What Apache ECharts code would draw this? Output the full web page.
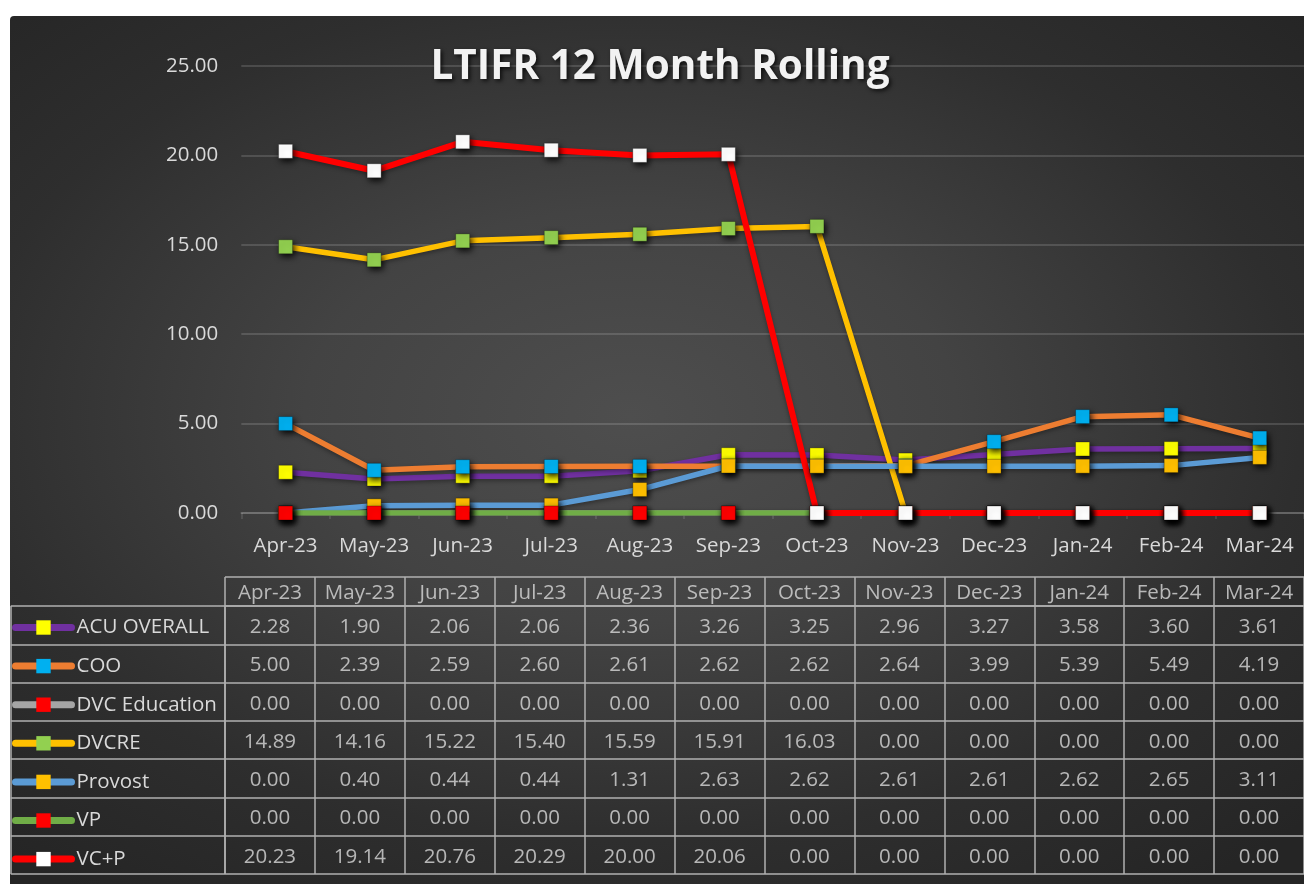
<!DOCTYPE html>
<html>
<head>
<meta charset="utf-8">
<script src="https://cdn.jsdelivr.net/npm/echarts@6/dist/echarts.min.js"></script>
<style>
    html, body {
        margin: 0;
        padding: 0;
        background: #ffffff;
        width: 1304px;
        height: 884px;
        overflow: hidden;
    }
    #chart {
        position: absolute;
        left: 10px;
        top: 16px;
        width: 1294px;
        height: 868px;
        border-top-left-radius: 4px;
        background: radial-gradient(ellipse 72% 68% at 48% 46%, #4e4e4e 0%, #434343 35%, #2e2e2e 72%, #252525 100%);
    }
</style>
</head>
<body>
<div id="chart"></div>
<script>
// months / series
var months = ['Apr-23', 'May-23', 'Jun-23', 'Jul-23', 'Aug-23', 'Sep-23', 'Oct-23', 'Nov-23', 'Dec-23', 'Jan-24', 'Feb-24', 'Mar-24']
var seriesNames = ['ACU OVERALL', 'COO', 'DVC Education', 'DVCRE', 'Provost', 'VP', 'VC+P']

var acuOverall = [2.28, 1.90, 2.06, 2.06, 2.36, 3.26, 3.25, 2.96, 3.27, 3.58, 3.60, 3.61]
var coo = [5.00, 2.39, 2.59, 2.60, 2.61, 2.62, 2.62, 2.64, 3.99, 5.39, 5.49, 4.19]
var dvcEducation = [0.00, 0.00, 0.00, 0.00, 0.00, 0.00, 0.00, 0.00, 0.00, 0.00, 0.00, 0.00]
var dvcre = [14.89, 14.16, 15.22, 15.40, 15.59, 15.91, 16.03, 0.00, 0.00, 0.00, 0.00, 0.00]
var provost = [0.00, 0.40, 0.44, 0.44, 1.31, 2.63, 2.62, 2.61, 2.61, 2.62, 2.65, 3.11]
var vp = [0.00, 0.00, 0.00, 0.00, 0.00, 0.00, 0.00, 0.00, 0.00, 0.00, 0.00, 0.00]
var vcp = [20.23, 19.14, 20.76, 20.29, 20.00, 20.06, 0.00, 0.00, 0.00, 0.00, 0.00, 0.00]

var yTicks = [0, 5, 10, 15, 20, 25]

var allValues = [acuOverall, coo, dvcEducation, dvcre, provost, vp, vcp]
var lineColors = ['#7030A0', '#ED7D31', '#A5A5A5', '#FFC000', '#5B9BD5', '#70AD47', '#FF0000']
var markerColors = ['#FFFF00', '#00B0F0', '#FF0000', '#92D050', '#FFC000', '#FF0000', '#FFFFFF']

var font = 'Open Sans'
var textColor = '#d9d9d9'
var tableLine = { color: '#b0b0b0', width: 1.5 }

var chart = echarts.init(document.getElementById('chart'))

var lineSeries = seriesNames.map(function (name, k) {
    return {
        name: name,
        type: 'line',
        xAxisIndex: 0,
        yAxisIndex: 0,
        data: allValues[k],
        symbol: 'rect',
        symbolSize: 14,
        showAllSymbol: true,
        lineStyle: {
            color: lineColors[k],
            width: k === 6 ? 6 : 5.5,
            shadowColor: 'rgba(0,0,0,0.35)',
            shadowBlur: 4,
            shadowOffsetY: 2
        },
        itemStyle: {
            color: markerColors[k],
            borderColor: 'rgba(0,0,0,0.35)',
            borderWidth: 0.8,
            shadowColor: 'rgba(0,0,0,0.85)',
            shadowBlur: 6,
            shadowOffsetX: 2,
            shadowOffsetY: 3
        },
        emphasis: { disabled: true },
        animation: false
    }
})

// table cells
var cellData = []
allValues.forEach(function (vals, r) {
    vals.forEach(function (v, i) {
        cellData.push([i, r, v])
    })
})

var tableLabel = {
    show: true,
    position: 'inside',
    offset: [0, 2],
    color: textColor,
    fontSize: 20.5,
    fontFamily: font
}

chart.setOption({
    textStyle: { fontFamily: font },
    title: {
        text: 'LTIFR 12 Month Rolling',
        left: 650,
        top: 31,
        padding: 0,
        textAlign: 'center',
        textStyle: {
            color: '#f2f2f2',
            fontSize: 40.5,
            fontWeight: 'bold',
            fontFamily: font,
            textShadowColor: 'rgba(0,0,0,0.75)',
            textShadowBlur: 4,
            textShadowOffsetX: 2,
            textShadowOffsetY: 2
        }
    },
    legend: {
        data: seriesNames,
        orient: 'vertical',
        left: 2,
        top: 601,
        bottom: 0,
        padding: 0,
        itemWidth: 56,
        itemHeight: 18,
        itemGap: 17.6,
        selectedMode: false,
        textStyle: {
            color: textColor,
            fontSize: 20.5,
            fontFamily: font
        },
        lineStyle: { width: 7, cap: 'round', shadowBlur: 0 },
        itemStyle: { shadowBlur: 0, borderWidth: 0 }
    },
    grid: [
        { left: 231.3, right: -9.7, top: 50, height: 447 },
        { left: 215, right: -10, top: 561, height: 29 },
        { left: 215, right: -10, top: 590, height: 268 },
        { left: 0.75, width: 214.25, top: 590, height: 268 }
    ],
    xAxis: [{
        gridIndex: 0,
        type: 'category',
        data: months,
        boundaryGap: true,
        axisLine: { show: true, lineStyle: { color: 'rgba(255,255,255,0.14)', width: 2 } },
        axisTick: { show: true, interval: 0, length: 6, lineStyle: { color: 'rgba(255,255,255,0.14)', width: 1.5 } },
        axisLabel: { interval: 0, margin: 23, color: textColor, fontSize: 20.5, fontFamily: font },
        splitLine: { show: false }
    }, {
        gridIndex: 1,
        type: 'category',
        data: months,
        axisLine: { show: false },
        axisTick: { show: false },
        axisLabel: { show: false },
        splitLine: { show: true, interval: 0, lineStyle: tableLine }
    }, {
        gridIndex: 2,
        type: 'category',
        data: months,
        axisLine: { show: false },
        axisTick: { show: false },
        axisLabel: { show: false },
        splitLine: { show: true, interval: 0, lineStyle: tableLine }
    }, {
        gridIndex: 3,
        type: 'category',
        data: [''],
        axisLine: { show: false },
        axisTick: { show: false },
        axisLabel: { show: false },
        splitLine: { show: true, interval: 0, lineStyle: tableLine }
    }],
    yAxis: [{
        gridIndex: 0,
        type: 'value',
        min: yTicks[0],
        max: yTicks[yTicks.length - 1],
        interval: 5,
        axisLine: { show: false },
        axisTick: { show: false },
        axisLabel: {
            margin: 23,
            color: textColor,
            fontSize: 20.5,
            fontFamily: font,
            formatter: function (v) { return v.toFixed(2) }
        },
        splitLine: { show: true, lineStyle: { color: 'rgba(255,255,255,0.14)', width: 2 } }
    }, {
        gridIndex: 1,
        type: 'category',
        data: ['header'],
        axisLine: { show: false },
        axisTick: { show: false },
        axisLabel: { show: false },
        splitLine: { show: true, interval: 0, lineStyle: tableLine }
    }, {
        gridIndex: 2,
        type: 'category',
        data: seriesNames,
        inverse: true,
        axisLine: { show: false },
        axisTick: { show: false },
        axisLabel: { show: false },
        splitLine: { show: true, interval: 0, lineStyle: tableLine }
    }, {
        gridIndex: 3,
        type: 'category',
        data: seriesNames,
        inverse: true,
        axisLine: { show: false },
        axisTick: { show: false },
        axisLabel: { show: false },
        splitLine: { show: true, interval: 0, lineStyle: tableLine }
    }],
    series: lineSeries.concat([{
        name: 'table-header',
        type: 'scatter',
        xAxisIndex: 1,
        yAxisIndex: 1,
        silent: true,
        symbolSize: 1,
        itemStyle: { color: 'transparent' },
        data: months.map(function (m, i) { return [i, 0] }),
        label: Object.assign({}, tableLabel, {
            formatter: function (p) { return months[p.value[0]] }
        }),
        animation: false
    }, {
        name: 'table-values',
        type: 'scatter',
        xAxisIndex: 2,
        yAxisIndex: 2,
        silent: true,
        symbolSize: 1,
        itemStyle: { color: 'transparent' },
        data: cellData,
        label: Object.assign({}, tableLabel, {
            formatter: function (p) { return p.value[2].toFixed(2) }
        }),
        animation: false
    }])
})
</script>
</body>
</html>
